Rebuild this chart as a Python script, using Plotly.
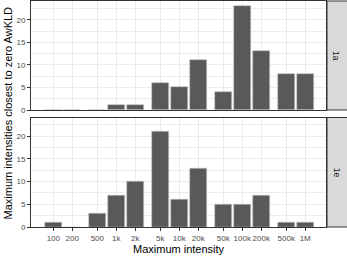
import numpy as np
import plotly.graph_objects as go

# Data
intensity_breaks = [100, 200, 500, 1000, 2000, 5000, 10000, 20000, 50000, 100000, 200000, 500000, 1000000]
break_labels = ["100", "200", "500", "1k", "2k", "5k", "10k", "20k", "50k", "100k", "200k", "500k", "1M"]
counts_1a = [0, 0, 0, 1, 1, 6, 5, 11, 4, 23, 13, 8, 8]
counts_1e = [1, 0, 3, 7, 10, 21, 6, 13, 5, 5, 7, 1, 1]
facets = ["1a", "1e"]

xlog = np.log10(intensity_breaks)
bar_w = 0.9 * np.log10(2)

W, H = 347, 257
ml, mr, mt, mb = 31, 21, 1, 30
pw, ph = W - ml - mr, H - mt - mb

def py(y):
    return (H - mb - y) / ph

def px(x):
    return (x - ml) / pw

dom_top = [py(110), 1.0]
dom_bot = [0.0, py(117.5)]

fig = go.Figure()
fig.add_trace(go.Bar(x=xlog, y=counts_1a, width=bar_w, xaxis="x", yaxis="y",
                     marker=dict(color="#595959", line=dict(color="#C8C8C8", width=0.6)),
                     showlegend=False))
fig.add_trace(go.Bar(x=xlog, y=counts_1e, width=bar_w, xaxis="x2", yaxis="y2",
                     marker=dict(color="#595959", line=dict(color="#C8C8C8", width=0.6)),
                     showlegend=False))

xr = [1.646, 6.33]
yr = [0, 24.15]
grid = "#EBEBEB"
border = "#333333"
tickfont = dict(family="Liberation Sans, Arial, sans-serif", size=8, color="#4D4D4D")

common_x = dict(range=xr, tickvals=list(xlog), ticktext=break_labels, showgrid=True, tickangle=0,
                gridcolor=grid, gridwidth=1, zeroline=False, showline=True, linecolor=border,
                linewidth=1, mirror=True, tickfont=tickfont)
common_y = dict(range=yr, tickvals=[0, 5, 10, 15, 20], showgrid=True, gridcolor=grid, gridwidth=1,
                zeroline=False, showline=True, linecolor=border, linewidth=1, mirror=True,
                ticks="outside", ticklen=3, tickcolor=border, tickfont=tickfont,
                minor=dict(tickvals=[2.5, 7.5, 12.5, 17.5, 22.5], showgrid=True, gridcolor=grid,
                           gridwidth=1, ticks=""))

fig.update_layout(
    width=W, height=H,
    margin=dict(l=ml, r=mr, t=mt, b=mb),
    paper_bgcolor="white", plot_bgcolor="white",
    font=dict(family="Liberation Sans, Arial, sans-serif"),
    xaxis=dict(common_x, domain=[0, 1], anchor="y", showticklabels=False, ticks=""),
    yaxis=dict(common_y, domain=dom_top, anchor="x"),
    xaxis2=dict(common_x, domain=[0, 1], anchor="y2", ticks="outside", ticklen=3, tickcolor=border),
    yaxis2=dict(common_y, domain=dom_bot, anchor="x2"),
    bargap=0,
)

# Facet strips on the right
sx0, sx1 = px(327), px(348)
for name, dom in zip(facets, [dom_top, dom_bot]):
    fig.add_shape(type="rect", xref="paper", yref="paper", x0=sx0, x1=sx1, y0=dom[0], y1=dom[1],
                  fillcolor="#D9D9D9", line=dict(color=border, width=1), layer="above")
    fig.add_annotation(text=name, xref="paper", yref="paper", x=(sx0 + px(346)) / 2,
                       y=(dom[0] + dom[1]) / 2, showarrow=False, textangle=90,
                       font=dict(size=8.5, color="#1A1A1A"), xanchor="center", yanchor="middle")

# Axis titles
fig.add_annotation(text="Maximum intensities closest to zero AwKLD", xref="paper", yref="paper",
                   x=px(7), y=py(113.5), showarrow=False, textangle=-90,
                   font=dict(size=11, color="black"), xanchor="center", yanchor="middle")
fig.add_annotation(text="Maximum intensity", xref="paper", yref="paper",
                   x=0.5, y=py(249), showarrow=False,
                   font=dict(size=11, color="black"), xanchor="center", yanchor="middle")

fig.write_html("out.html", config={"displayModeBar": False},
               post_script="document.body.style.margin='0';document.body.style.padding='0';")
